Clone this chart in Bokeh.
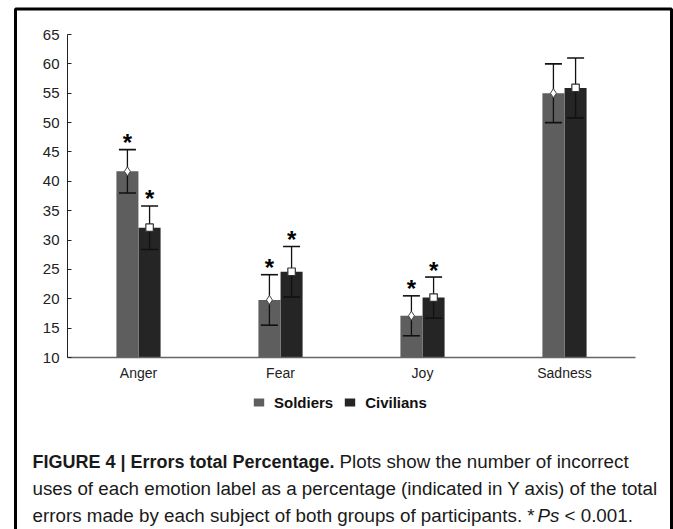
from bokeh.plotting import figure
from bokeh.models import (Range1d, ColumnDataSource, Label, Legend, LegendItem,
                          BoxAnnotation, FixedTicker, LinearAxis)
from bokeh.transform import dodge
from bokeh.core.properties import value
from bokeh.embed import file_html
from bokeh.resources import INLINE

# ---------------- data ----------------
categories = ["Anger", "Fear", "Joy", "Sadness"]
soldiers = [41.7, 19.8, 17.1, 55.0]
soldiers_err = [3.7, 4.3, 3.4, 5.0]
civilians = [32.1, 24.6, 20.2, 55.9]
civilians_err = [3.7, 4.3, 3.5, 5.1]
significant = [True, True, True, False]
y_ticks = [10, 15, 20, 25, 30, 35, 40, 45, 50, 55, 60, 65]
series_names = ["Soldiers", "Civilians"]

caption_bold = "FIGURE 4 | Errors total Percentage."
caption_line1 = "Plots show the number of incorrect"
caption_line2 = "uses of each emotion label as a percentage (indicated in Y axis) of the total"
caption_line3a = "errors made by each subject of both groups of participants. *"
caption_line3b = "Ps"
caption_line3c = "< 0.001."

# ---------------- layout constants ----------------
W, H = 673, 529
FRAME_L, FRAME_R, FRAME_T, FRAME_B = 67, 635, 34, 357   # pixel box of the chart area
FONT = "Liberation Sans"
C_SOL = "#5e5e5e"
C_CIV = "#252525"
OFF = 0.078
BW = 0.155

n = len(categories)
xpu = (FRAME_R - FRAME_L) / n                        # pixels per category
ypu = (FRAME_B - FRAME_T) / (y_ticks[-1] - y_ticks[0])
x_range = Range1d(-FRAME_L / xpu, (W - FRAME_L) / xpu)
y_range = Range1d(y_ticks[0] - (H - FRAME_B) / ypu, y_ticks[-1] + FRAME_T / ypu)

p = figure(x_range=x_range, y_range=y_range, width=W, height=H,
           output_backend="svg", toolbar_location=None, min_border=0,
           x_axis_type=None, y_axis_type=None)
p.outline_line_color = None
p.background_fill_color = "white"
p.border_fill_color = "white"
p.extra_x_ranges = {"px": Range1d(0, W)}
p.extra_y_ranges = {"px": Range1d(H, 0)}

positions = [i + 0.5 for i in range(n)]

def make_src(vals, errs):
    return ColumnDataSource(dict(
        x=positions, val=vals,
        lo=[v - e for v, e in zip(vals, errs)],
        hi=[v + e for v, e in zip(vals, errs)],
    ))

src_s = make_src(soldiers, soldiers_err)
src_c = make_src(civilians, civilians_err)

base = y_ticks[0]
bar_s = p.vbar(x=dodge("x", -OFF), top="val", bottom=base, width=BW,
               source=src_s, fill_color=C_SOL, line_color=None)
bar_c = p.vbar(x=dodge("x", OFF), top="val", bottom=base, width=BW,
               source=src_c, fill_color=C_CIV, line_color=None)

for src, off in ((src_s, -OFF), (src_c, OFF)):
    xd = dodge("x", off)
    p.segment(x0=xd, y0="lo", x1=xd, y1="hi", source=src, line_color="#111111", line_width=1.3)
    p.scatter(x=xd, y="hi", marker="dash", size=17, source=src, line_color="#111111", line_width=1.6)
    p.scatter(x=xd, y="lo", marker="dash", size=17, source=src, line_color="#111111", line_width=1.6)

p.scatter(x=dodge("x", -OFF), y="val", marker="diamond", size=9,
          source=src_s, fill_color="white", line_color="#444444", line_width=1)
p.scatter(x=dodge("x", OFF), y="val", marker="square", size=7.5,
          source=src_c, fill_color="white", line_color="#333333", line_width=1.2)

# significance stars
for src, off in ((src_s, -OFF), (src_c, OFF)):
    d = src.data
    star_src = ColumnDataSource(dict(
        x=[c for c, s in zip(d["x"], significant) if s],
        hi=[h for h, s in zip(d["hi"], significant) if s],
        t=["*" for s in significant if s],
    ))
    p.text(x=dodge("x", off), y="hi", text="t", source=star_src,
           text_font=value(FONT), text_font_size="24px", text_font_style="bold",
           text_align="center", text_baseline="alphabetic", y_offset=-7, text_color="#000000")

# axes (drawn at fixed data locations inside the canvas)
yaxis = LinearAxis(fixed_location=0, bounds=(y_ticks[0], y_ticks[-1]),
                   ticker=FixedTicker(ticks=y_ticks))
yaxis.major_tick_in = 4
yaxis.major_tick_out = 0
yaxis.minor_tick_line_color = None
yaxis.axis_line_color = "#222222"
yaxis.major_tick_line_color = "#222222"
yaxis.major_label_text_font = FONT
yaxis.major_label_text_font_size = "15px"
yaxis.major_label_text_color = "#222222"
yaxis.major_label_standoff = 8
p.add_layout(yaxis, "left")

xaxis = LinearAxis(fixed_location=y_ticks[0], bounds=(0, n),
                   ticker=FixedTicker(ticks=positions),
                   major_label_overrides={pos: c for pos, c in zip(positions, categories)})
xaxis.major_tick_line_color = None
xaxis.minor_tick_line_color = None
xaxis.axis_line_color = "#666666"
xaxis.axis_line_width = 1.5
xaxis.major_label_text_font = FONT
xaxis.major_label_text_font_size = "14px"
xaxis.major_label_text_color = "#222222"
xaxis.major_label_standoff = 1
p.add_layout(xaxis, "below")

# legend (with small icon markers)
leg_s = p.scatter(x=[], y=[], marker="circle", size=4, fill_color="white", line_color="#444444")
leg_c = p.scatter(x=[], y=[], marker="square", size=4, fill_color="white", line_color="#222222")
legend = Legend(items=[LegendItem(label=series_names[0], renderers=[bar_s, leg_s]),
                       LegendItem(label=series_names[1], renderers=[bar_c, leg_c])],
                location=(252, H - 411), orientation="horizontal",
                glyph_width=13, glyph_height=10, label_standoff=9, spacing=10,
                padding=0, margin=0, border_line_color=None, background_fill_alpha=0,
                label_text_font=FONT, label_text_font_size="15px", label_text_font_style="bold",
                label_text_color="#111111", label_height=18)
p.add_layout(legend, "center")

# caption (pixel coordinates through the "px" ranges)
def lab(x, y, text, size="18.8px", style="normal"):
    p.add_layout(Label(x=x, y=y, x_range_name="px", y_range_name="px", text=text,
                       text_font=FONT, text_font_size=size, text_font_style=style,
                       text_color="#1a1a1a", text_baseline="alphabetic", text_align="left"))

lab(32, 461, caption_bold, size="18px", style="bold")
lab(339, 461, caption_line1)
lab(32, 488, caption_line2)
lab(32, 515, caption_line3a)
lab(537, 515, caption_line3b, style="italic")
lab(564, 515, caption_line3c)

# outer frame
p.add_layout(BoxAnnotation(left=15, right=671, top=8.5, bottom=H + 40,
                           x_range_name="px", y_range_name="px",
                           fill_alpha=0, line_color="black", line_alpha=1.0, line_width=3))

open("out.html", "w").write(file_html(p, INLINE))
